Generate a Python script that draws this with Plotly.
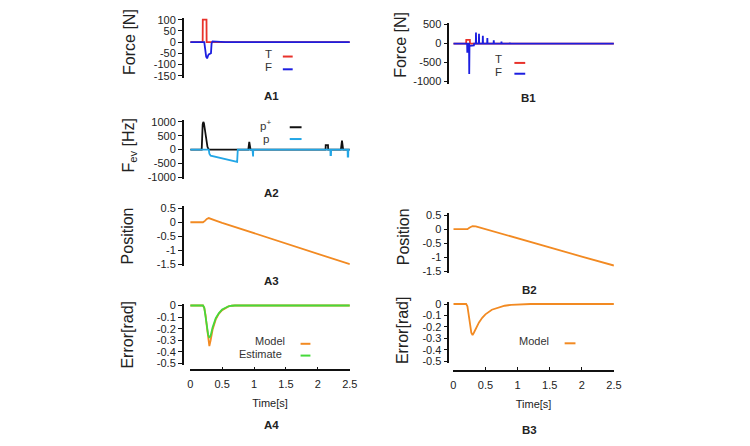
import plotly.graph_objects as go

W, H = 750, 446

# ---------------- data ----------------
# A1: forces [N]
a1_T_time = [0, 0.195, 0.197, 0.255, 0.257, 2.5]
a1_T_val = [0, 0, 100, 100, 0, 0]
a1_F_time = [0, 0.22, 0.25, 0.265, 0.28, 0.29, 0.325, 0.335, 0.35, 0.45, 0.55, 2.5]
a1_F_val = [0, 0, -65, -73, -60, -55, -50, -5, 3, 2, 0, 0]

# A2: event frequency [Hz]
a2_pp_time = [0, 0.18, 0.195, 0.205, 0.215, 0.24, 0.27, 0.29, 0.745, 0.91, 0.925, 0.945,
              2.12, 2.122, 2.158, 2.16, 2.36, 2.377, 2.395, 2.5]
a2_pp_val = [0, 0, 900, 1000, 950, 500, 100, 0, 0, 0, 280, 0,
             0, 160, 160, 0, 0, 320, 0, 0]
a2_pm_time = [0, 0.29, 0.30, 0.32, 0.735, 0.745, 0.975, 0.977, 0.985, 0.987,
              2.195, 2.197, 2.205, 2.207, 2.465, 2.467, 2.475, 2.477, 2.5]
a2_pm_val = [0, 0, -150, -220, -440, 0, 0, -250, -250, 0,
             0, -200, -200, 0, 0, -250, -250, 0, 0]

# A3: position
a3_time = [0, 0.2, 0.23, 0.26, 0.29, 0.32, 0.4, 0.5, 1.0, 1.5, 2.0, 2.5]
a3_val = [0, 0, 0.05, 0.12, 0.15, 0.13, 0.06, -0.02, -0.39, -0.76, -1.13, -1.5]

# A4: error [rad]
a4_time = [0, 0.2, 0.22, 0.24, 0.26, 0.28, 0.3, 0.32, 0.35, 0.4, 0.45, 0.5, 0.55, 0.6, 0.65, 0.7, 2.5]
a4_model = [0, 0, -0.02, -0.08, -0.18, -0.29, -0.35, -0.30, -0.21, -0.12, -0.07, -0.04, -0.02, -0.008, -0.002, 0, 0]
a4_estimate = [0, 0, -0.02, -0.08, -0.17, -0.25, -0.28, -0.26, -0.19, -0.11, -0.065, -0.035, -0.018, -0.007, -0.002, 0, 0]

# B1: forces [N]
b1_T_time = [0, 0.2, 0.202, 0.258, 0.26, 2.5]
b1_T_val = [0, 0, 100, 100, 0, 0]
b1_F_time = [0, 0.215, 0.218, 0.222, 0.245, 0.248, 0.252, 0.32, 0.325,
             0.35, 0.353, 0.356, 0.397, 0.40, 0.403, 0.457, 0.46, 0.463,
             0.527, 0.53, 0.533, 0.627, 0.63, 0.633, 0.747, 0.75, 0.753,
             0.877, 0.88, 0.883, 0.997, 1.0, 1.003, 2.5]
b1_F_val = [0, 0, -240, 0, 0, -800, -60, -50, 0,
            0, 290, 0, 0, 260, 0, 0, 205, 0,
            0, 145, 0, 0, 90, 0, 0, 50, 0,
            0, 28, 0, 0, 12, 0, 0]

# B2: position
b2_time = [0, 0.22, 0.25, 0.28, 0.3, 0.35, 0.5, 1.0, 1.5, 2.0, 2.5]
b2_val = [0, 0, 0.05, 0.1, 0.11, 0.1, 0.0, -0.33, -0.65, -0.98, -1.3]

# B3: error [rad]
b3_time = [0, 0.2, 0.22, 0.24, 0.26, 0.28, 0.3, 0.32, 0.35, 0.4, 0.45, 0.5, 0.6, 0.7, 0.8, 0.9, 1.0, 1.2, 2.5]
b3_model = [0, 0, -0.02, -0.08, -0.17, -0.25, -0.27, -0.25, -0.21, -0.16, -0.12, -0.09, -0.05, -0.03, -0.015, -0.007, -0.003, 0, 0]

# tick labels
force_a_ticks = [100, 50, 0, -50, -100, -150]
fev_ticks = [1000, 500, 0, -500, -1000]
pos_ticks = [0.5, 0, -0.5, -1, -1.5]
err_ticks = [0, -0.1, -0.2, -0.3, -0.4, -0.5]
force_b_ticks = [500, 0, -500, -1000]
time_ticks = [0, 0.5, 1, 1.5, 2, 2.5]

# ---------------- style ----------------
RED = "#e8322b"
BLUE = "#1c1ee0"
BLACK = "#111111"
CYAN = "#22a6e6"
ORANGE = "#f28a22"
GREEN = "#45d93a"
FONT = "Liberation Sans, Arial, sans-serif"
TXT = "#222222"
LW = 1.8


def fmt(v):
    return "%g" % v


fig = go.Figure()

LEFT_X = (190, 352)
RIGHT_X = (457, 620)


def add_panel(idx, xspan, yaxis_x, top_px, bot_px, vmax, vmin, ticks, show_x=False, xline_px=None):
    pad = 2
    per = (vmax - vmin) / (bot_px - top_px)
    rng = [vmin - pad * per, vmax + pad * per]
    dom = [1 - (bot_px + pad) / H, 1 - (top_px - pad) / H]
    sfx = "" if idx == 1 else str(idx)
    yax = dict(
        anchor="free", position=yaxis_x / W, domain=dom, range=rng,
        tickvals=ticks, ticktext=[fmt(t) for t in ticks],
        showline=True, linecolor="#111", linewidth=1.6,
        ticks="outside", ticklen=4, tickwidth=1.4, tickcolor="#111",
        showgrid=False, zeroline=False,
        tickfont=dict(family=FONT, size=11, color=TXT),
    )
    xax = dict(domain=[xspan[0] / W, xspan[1] / W], range=[0, 2.5],
               showgrid=False, zeroline=False)
    if show_x:
        xax.update(
            anchor="free", position=1 - xline_px / H, visible=True,
            tickvals=time_ticks, ticktext=[fmt(t) for t in time_ticks],
            showline=True, linecolor="#111", linewidth=1.6,
            ticks="inside", ticklen=3, tickwidth=1.4, tickcolor="#111",
            ticklabelstandoff=4,
            tickfont=dict(family=FONT, size=11, color=TXT),
            title=dict(text="Time[s]", font=dict(family=FONT, size=11, color=TXT), standoff=9),
        )
    else:
        xax.update(visible=False, anchor="y" + sfx)
    fig.update_layout(**{"xaxis" + sfx: xax, "yaxis" + sfx: yax})
    return "x" + sfx, "y" + sfx


def line(xref, yref, t, v, color):
    fig.add_trace(go.Scatter(x=t, y=v, mode="lines", xaxis=xref, yaxis=yref,
                             line=dict(color=color, width=LW), showlegend=False,
                             hoverinfo="skip"))


# A1
xa, ya = add_panel(1, LEFT_X, 182.5, 16, 73, 100, -150, force_a_ticks)
line(xa, ya, a1_T_time, a1_T_val, RED)
line(xa, ya, a1_F_time, a1_F_val, BLUE)
# A2
xa, ya = add_panel(2, LEFT_X, 182.5, 120, 176.5, 1000, -1000, fev_ticks)
line(xa, ya, a2_pp_time, a2_pp_val, BLACK)
line(xa, ya, a2_pm_time, a2_pm_val, CYAN)
# A3
xa, ya = add_panel(3, LEFT_X, 182.5, 208, 265, 0.5, -1.5, pos_ticks)
line(xa, ya, a3_time, a3_val, ORANGE)
# A4
xa, ya = add_panel(4, LEFT_X, 182.5, 307, 366, 0, -0.5, err_ticks, show_x=True, xline_px=373)
line(xa, ya, a4_time, a4_model, ORANGE)
line(xa, ya, a4_time, a4_estimate, GREEN)
# B1
xa, ya = add_panel(5, RIGHT_X, 452, 21, 79, 500, -1000, force_b_ticks)
line(xa, ya, b1_T_time, b1_T_val, RED)
line(xa, ya, b1_F_time, b1_F_val, BLUE)
# B2
xa, ya = add_panel(6, RIGHT_X, 452, 215, 272, 0.5, -1.5, pos_ticks)
line(xa, ya, b2_time, b2_val, ORANGE)
# B3
xa, ya = add_panel(7, RIGHT_X, 452, 305.5, 364, 0, -0.5, err_ticks, show_x=True, xline_px=373.5)
line(xa, ya, b3_time, b3_model, ORANGE)

annotations = []
shapes = []


def px_ann(text, x, y, size=11, bold=False, angle=0, xanchor="center", color=TXT):
    annotations.append(dict(
        text=("<b>%s</b>" % text) if bold else text,
        x=x / W, y=1 - y / H, xref="paper", yref="paper",
        xanchor=xanchor, yanchor="middle", showarrow=False, textangle=angle,
        borderpad=0, font=dict(family=FONT, size=size, color=color)))


def swatch(x0, x1, y, color):
    shapes.append(dict(type="line", xref="paper", yref="paper",
                       x0=x0 / W, x1=x1 / W, y0=1 - y / H, y1=1 - y / H,
                       line=dict(color=color, width=2)))


# y titles
px_ann("Force [N]", 128.5, 39, size=16, angle=-90)
px_ann("F<sub>ev</sub> [Hz]", 128, 144, size=16, angle=-90)
px_ann("Position", 126.5, 236, size=16, angle=-90)
px_ann("Error[rad]", 126.5, 337, size=16, angle=-90)
px_ann("Force [N]", 403.5, 42, size=16, angle=-90)
px_ann("Position", 406, 237.5, size=16, angle=-90)
px_ann("Error[rad]", 405, 332, size=16, angle=-90)

# panel labels
px_ann("A1", 272.5, 93.5, size=11.5, bold=True)
px_ann("A2", 273, 192, size=11.5, bold=True)
px_ann("A3", 273, 282, size=11.5, bold=True)
px_ann("A4", 272.5, 429, size=11.5, bold=True)
px_ann("B1", 533.5, 95.5, size=11.5, bold=True)
px_ann("B2", 534, 291, size=11.5, bold=True)
px_ann("B3", 534, 434, size=11.5, bold=True)

# legends
px_ann("T", 274, 51, size=11.5, xanchor="right", color="#333")
px_ann("F", 274, 64, size=11.5, xanchor="right", color="#333")
swatch(284, 294, 53.5, RED)
swatch(284, 294, 66.5, BLUE)

px_ann("p<sup>+</sup>", 273, 123.5, size=11.5, xanchor="right", color="#333")
px_ann("p", 271, 137, size=11.5, xanchor="right", color="#333")
swatch(291, 303, 125.5, BLACK)
swatch(291, 303, 137.5, CYAN)

px_ann("Model", 287, 343, size=11, xanchor="right", color="#333")
px_ann("Estimate", 284.5, 356, size=11, xanchor="right", color="#333")
swatch(302, 312, 346, ORANGE)
swatch(302, 312, 358, GREEN)

px_ann("T", 507.5, 55.5, size=11.5, xanchor="right", color="#333")
px_ann("F", 507.5, 69.5, size=11.5, xanchor="right", color="#333")
swatch(519, 530, 60, RED)
swatch(519, 530, 71, BLUE)

px_ann("Model", 555.5, 343, size=11, xanchor="right", color="#333")
swatch(570, 581, 345.5, ORANGE)

fig.update_layout(
    width=W, height=H, margin=dict(l=0, r=0, t=0, b=0),
    paper_bgcolor="white", plot_bgcolor="rgba(0,0,0,0)",
    showlegend=False, annotations=annotations, shapes=shapes,
    font=dict(family=FONT, color=TXT),
)

fig.write_html("out.html")
